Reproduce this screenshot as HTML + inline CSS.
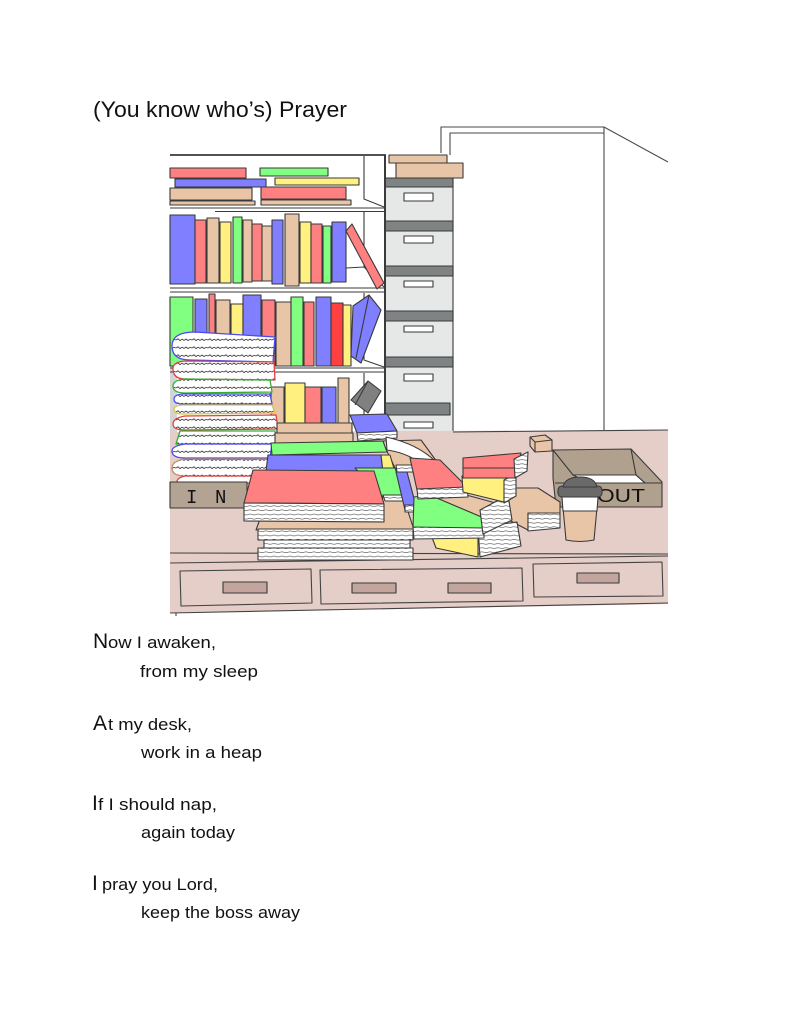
<!DOCTYPE html>
<html><head><meta charset="utf-8"><style>
html,body{margin:0;padding:0;background:#fff;}
svg{display:block;}
text{font-family:"Liberation Sans",sans-serif;fill:#111;}
</style></head><body>
<svg width="791" height="1024" viewBox="0 0 791 1024" xmlns="http://www.w3.org/2000/svg">
<defs>
<pattern id="sq" width="16" height="8" patternUnits="userSpaceOnUse">
<rect width="16" height="8" fill="#fff"/>
<path d="M0,4 L2,2.8 L4,4.6 L6,3.2 L8,4.4 L10,3 L12,4.5 L14,3.4 L16,4" stroke="#333" stroke-width="0.8" fill="none"/>
</pattern>
<pattern id="pg" width="8" height="4.2" patternUnits="userSpaceOnUse">
<rect width="8" height="4.2" fill="#fff"/>
<path d="M0,2.1 Q2,1.3 4,2.1 T8,2.1" stroke="#444" stroke-width="0.6" fill="none"/>
</pattern>
</defs>
<rect width="791" height="1024" fill="#fff"/>

<!-- TITLE -->
<text x="93" y="117" font-size="22" textLength="254" lengthAdjust="spacingAndGlyphs">(You know who’s) Prayer</text>

<!-- POEM -->
<text x="93" y="648" font-size="21">N</text>
<text x="108" y="648" font-size="17" textLength="108" lengthAdjust="spacingAndGlyphs">ow I awaken,</text>
<text x="140" y="677" font-size="17" textLength="118" lengthAdjust="spacingAndGlyphs">from my sleep</text>
<text x="93" y="730" font-size="21">A</text>
<text x="108" y="730" font-size="17" textLength="84" lengthAdjust="spacingAndGlyphs">t my desk,</text>
<text x="141" y="758" font-size="17" textLength="121" lengthAdjust="spacingAndGlyphs">work in a heap</text>
<text x="92" y="810" font-size="21">I</text>
<text x="98" y="810" font-size="17" textLength="119" lengthAdjust="spacingAndGlyphs">f I should nap,</text>
<text x="141" y="838" font-size="17" textLength="94" lengthAdjust="spacingAndGlyphs">again today</text>
<text x="92" y="890" font-size="21">I</text>
<text x="102" y="890" font-size="17" textLength="116" lengthAdjust="spacingAndGlyphs">pray you Lord,</text>
<text x="141" y="918" font-size="17" textLength="159" lengthAdjust="spacingAndGlyphs">keep the boss away</text>

<!-- ILLUSTRATION -->
<g stroke="#3a3a3a" stroke-width="1.1" stroke-linejoin="round">

<!-- wall lines -->
<g fill="none" stroke="#4a4a4a">
<path d="M441,153 V127 H604 L668,162"/>
<path d="M450,155 V133 H604"/>
<path d="M604,127 V432"/>
</g>

<!-- shelf structure -->
<rect x="170" y="320" width="7" height="165" fill="#d4d4d4" stroke="none"/>
<g fill="none">
<line x1="170" y1="155" x2="386" y2="155" stroke-width="1.8"/>
<line x1="170" y1="208" x2="384" y2="208"/>
<line x1="215" y1="211.5" x2="384" y2="211.5"/>
<line x1="170" y1="288" x2="384" y2="288"/>
<line x1="170" y1="292" x2="384" y2="292"/>
<line x1="170" y1="368" x2="384" y2="368"/>
<line x1="170" y1="372" x2="384" y2="372"/>
<path d="M364,156 V199 L384,207 M364,212 V267 L346,268 M364,267 L384,287 M364,293 V360 L384,367 M364,373 V418 L384,425"/>
</g>

<!-- top shelf books -->
<g>
<rect x="170" y="168" width="76" height="10" fill="#ff8080"/>
<rect x="175" y="179" width="91" height="8" fill="#7f7fff"/>
<rect x="170" y="188" width="82" height="12" fill="#e9c5a8"/>
<rect x="170" y="201" width="85" height="4" fill="#e9c5a8"/>
<rect x="260" y="168" width="68" height="8" fill="#80ff80"/>
<rect x="275" y="178" width="84" height="7" fill="#fff080"/>
<rect x="261" y="187" width="85" height="12" fill="#ff8080"/>
<rect x="261" y="200" width="90" height="5" fill="#e9c5a8"/>
</g>

<!-- shelf 2 books -->
<g>
<rect x="170" y="215" width="25" height="69" fill="#7f7fff"/>
<rect x="195" y="220" width="11" height="63" fill="#ff8080"/>
<rect x="207" y="218" width="12" height="65" fill="#e9c5a8"/>
<rect x="220" y="222" width="11" height="61" fill="#fff080"/>
<rect x="233" y="217" width="9" height="66" fill="#80ff80"/>
<rect x="243" y="220" width="9" height="62" fill="#e9c5a8"/>
<rect x="252" y="224" width="10" height="57" fill="#ff8080"/>
<rect x="262" y="226" width="10" height="55" fill="#e9c5a8"/>
<rect x="272" y="220" width="11" height="64" fill="#7f7fff"/>
<rect x="285" y="214" width="14" height="72" fill="#e9c5a8"/>
<rect x="300" y="222" width="11" height="61" fill="#fff080"/>
<rect x="311" y="224" width="11" height="59" fill="#ff8080"/>
<rect x="323" y="226" width="8" height="57" fill="#80ff80"/>
<rect x="332" y="222" width="14" height="60" fill="#7f7fff"/>
<polygon points="346,231 352,224 384,283 377,289" fill="#ff8080"/>
</g>

<!-- shelf 3 books -->
<g>
<rect x="170" y="297" width="23" height="69" fill="#80ff80"/>
<rect x="195" y="299" width="12" height="67" fill="#7f7fff"/>
<rect x="209" y="294" width="6" height="72" fill="#ff8080"/>
<rect x="216" y="300" width="14" height="66" fill="#e9c5a8"/>
<rect x="231" y="304" width="12" height="62" fill="#fff080"/>
<rect x="243" y="295" width="18" height="71" fill="#7f7fff"/>
<rect x="262" y="300" width="13" height="66" fill="#ff8080"/>
<rect x="276" y="302" width="15" height="64" fill="#e9c5a8"/>
<rect x="291" y="297" width="12" height="69" fill="#80ff80"/>
<rect x="304" y="302" width="10" height="64" fill="#ff8080"/>
<rect x="316" y="297" width="15" height="69" fill="#7f7fff"/>
<rect x="331" y="303" width="12" height="63" fill="#ff4040"/>
<rect x="343" y="305" width="8" height="61" fill="#fff080"/>
<polygon points="351,356 353,306 369,295 381,310 361,363" fill="#7f7fff"/>
<line x1="369" y1="295" x2="356" y2="358"/>
</g>

<!-- shelf 4 books -->
<g>
<rect x="271" y="387" width="13" height="38" fill="#e9c5a8"/>
<rect x="285" y="383" width="20" height="42" fill="#fff080"/>
<rect x="305" y="387" width="16" height="38" fill="#ff8080"/>
<rect x="322" y="387" width="14" height="38" fill="#7f7fff"/>
<rect x="338" y="378" width="11" height="47" fill="#e9c5a8"/>
<polygon points="351,400 368,381 381,391 368,413" fill="#808080"/>
<line x1="368" y1="381" x2="355" y2="405"/>
</g>

<!-- filing cabinet -->
<g>
<rect x="389" y="155" width="58" height="8" fill="#e9c5a8"/>
<rect x="396" y="163" width="67" height="15" fill="#e9c5a8"/>
<rect x="385" y="178" width="68" height="254" fill="#e6e7e7"/>
<rect x="385" y="178" width="68" height="9" fill="#7f8383"/>
<rect x="385" y="221" width="68" height="10" fill="#7f8383"/>
<rect x="385" y="266" width="68" height="10" fill="#7f8383"/>
<rect x="385" y="311" width="68" height="10" fill="#7f8383"/>
<rect x="385" y="357" width="68" height="10" fill="#7f8383"/>
<rect x="385" y="403" width="65" height="12" fill="#7f8383"/>
<g fill="#fff">
<rect x="404" y="193" width="29" height="8"/>
<rect x="404" y="236" width="29" height="7"/>
<rect x="404" y="281" width="29" height="6"/>
<rect x="404" y="326" width="29" height="6"/>
<rect x="404" y="374" width="29" height="7"/>
<rect x="404" y="422" width="29" height="6"/>
</g>
<line x1="385" y1="155" x2="385" y2="432" stroke-width="2"/>
</g>

<!-- desk -->
<polygon points="170,432 668,430 668,604 170,613" fill="#e5cdc8" stroke="none"/>
<g fill="none" stroke="#444">
<line x1="453" y1="432" x2="668" y2="430"/>
<line x1="170" y1="553" x2="668" y2="554"/>
<line x1="170" y1="563" x2="668" y2="556"/>
<line x1="170" y1="613" x2="668" y2="603"/>
<line x1="176" y1="613" x2="176" y2="616"/>
<polygon points="180,571 311,569 312,603 181,606"/>
<polygon points="320,570 522,568 523,601 321,604"/>
<polygon points="533,564 662,562 663,596 534,597"/>
</g>
<g fill="#c2a59d">
<rect x="223" y="582" width="44" height="11"/>
<rect x="352" y="583" width="44" height="10"/>
<rect x="448" y="583" width="43" height="10"/>
<rect x="577" y="573" width="42" height="10"/>
</g>

<!-- cube -->
<polygon points="530,437 545,435 552,440 552,451 535,452 530,446" fill="#e9c5a8"/>
<path d="M530,437 L535,442 L552,440 M535,442 V452" fill="none"/>

<!-- OUT box -->
<g>
<polygon points="553,450 631,449 662,482 662,507 556,507 553,478" fill="#b0a08e"/>
<polygon points="573,475 636,475 645,483 590,483" fill="#fff"/>
<path d="M553,450 L573,475 H636 L631,449 M636,475 L645,483 M555,483 H662" fill="none"/>
<text x="597" y="502" font-size="18" textLength="48" lengthAdjust="spacingAndGlyphs" fill="#3a3a3a" stroke="none">OUT</text>
</g>

<!-- coffee cup -->
<g>
<path d="M562,497 L598,497 L594,540 Q580,543 566,540 Z" fill="#e9c5a8"/>
<path d="M562,497 L598,497 L597,511 L563,511 Z" fill="#fff"/>
<rect x="558" y="486" width="44" height="11" rx="4" fill="#6a6a6a"/>
<path d="M563,487 Q565,477 580,477 Q595,477 597,487 Z" fill="#6a6a6a"/>
</g>

<!-- paper stack left -->
<g fill="url(#sq)" stroke-width="1.3">
<path d="M275,337 L195,332 Q172,332 172,346 Q172,360 190,360 L273,362 Z" stroke="#4a4af0"/>
<path d="M274,362 L185,361 Q172,362 173,370 Q174,379 185,379 L275,380 Z" stroke="#e04040"/>
<path d="M270,380 L185,379 Q173,380 173,386 Q173,393 185,393 L272,392 Z" stroke="#30b030"/>
<path d="M270,394 L182,394 Q174,395 174,399 Q174,404 182,404 L272,404 Z" stroke="#4a4af0"/>
<path d="M272,405 L182,405 Q174,406 174,409 Q174,414 182,414 L275,413 Z" stroke="#d8c840"/>
<path d="M276,415 L185,416 Q173,418 173,424 Q173,430 185,430 L278,429 Z" stroke="#e04040"/>
<path d="M275,431 L180,431 L176,444 L276,444 Z" stroke="#30b030"/>
<path d="M272,444 L185,444 Q172,446 172,451 Q172,458 185,458 L270,458 Z" stroke="#4a4af0"/>
<path d="M270,459 L185,459 Q172,461 172,468 Q172,476 185,476 L268,477 Z" stroke="#c09070"/>
<path d="M270,476 L185,476 Q176,478 177,483 L270,483 Z" stroke="#e04040"/>
</g>

<!-- IN box -->
<rect x="170" y="482" width="77" height="26" fill="#b3a393"/>
<text x="186" y="503" font-size="19" fill="#3a3a3a" stroke="none" style="font-family:'Liberation Mono',monospace">I</text>
<text x="215" y="503" font-size="19" fill="#3a3a3a" stroke="none" style="font-family:'Liberation Mono',monospace">N</text>

<!-- middle pile -->
<rect x="277" y="423" width="75" height="10" fill="#e9c5a8"/>
<rect x="275" y="433" width="78" height="10" fill="#e9c5a8"/>
<polygon points="350,415 387,414 397,431 357,433" fill="#7f7fff"/>
<polygon points="357,433 397,431 397,438 358,441" fill="url(#pg)"/>
<polygon points="382,441 421,440 440,466 396,470" fill="#e9c5a8"/>
<path d="M386,437 Q418,444 436,462 L428,469 Q410,453 387,450 Z" fill="#fff"/>
<polygon points="396,465 437,465 437,472 397,472" fill="url(#pg)"/>
<polygon points="271,443 383,441 387,452 272,455" fill="#80ff80"/>
<polygon points="268,455 381,455 383,471 266,471" fill="#7f7fff"/>
<polygon points="381,455 390,455 395,472 383,472" fill="#fff080"/>

<polygon points="256,530 260,519 378,518 384,492 401,490 414,530" fill="#e9c5a8"/>
<polygon points="258,529 413,529 413,540 258,540" fill="url(#pg)"/>
<polygon points="264,540 410,540 410,548 264,548" fill="url(#pg)"/>
<polygon points="258,548 413,548 413,560 258,560" fill="url(#pg)"/>

<polygon points="355,468 395,468 406,497 383,497" fill="#80ff80"/>
<polygon points="383,495 406,495 406,501 385,501" fill="url(#pg)"/>
<polygon points="396,472 407,472 416,506 405,510" fill="#7f7fff"/>
<polygon points="405,505 416,505 416,512 405,512" fill="url(#pg)"/>

<polygon points="253,470 374,471 384,504 244,503" fill="#ff8080"/>
<polygon points="244,503 384,504 384,522 244,521" fill="url(#pg)"/>

<!-- right cluster -->
<polygon points="505,488 538,488 560,502 560,513 528,513 528,530 503,517" fill="#e9c5a8"/>
<polygon points="528,513 560,513 560,528 528,531" fill="url(#pg)"/>
<polygon points="430,532 478,537 478,557 436,548" fill="#fff080"/>
<polygon points="478,527 517,522 521,546 480,557" fill="url(#pg)"/>
<polygon points="414,497 430,495 484,518 484,528 413,528" fill="#80ff80"/>
<polygon points="413,527 484,528 484,538 414,539" fill="url(#pg)"/>
<polygon points="425,493 448,490 503,505 484,518" fill="#e9c5a8"/>
<polygon points="480,510 508,495 512,520 483,534" fill="url(#pg)"/>
<polygon points="410,458 440,460 467,487 417,490" fill="#ff8080"/>
<polygon points="417,489 467,487 468,497 418,499" fill="url(#pg)"/>
<polygon points="462,476 506,478 504,502 463,492" fill="#fff080"/>
<polygon points="504,480 516,474 516,496 504,503" fill="url(#pg)"/>
<polygon points="463,458 521,453 515,478 463,478" fill="#ff8080"/>
<line x1="463" y1="468" x2="517" y2="468"/>
<polygon points="514,459 528,452 527,471 515,478" fill="url(#pg)"/>
</g>
</svg>
</body></html>
